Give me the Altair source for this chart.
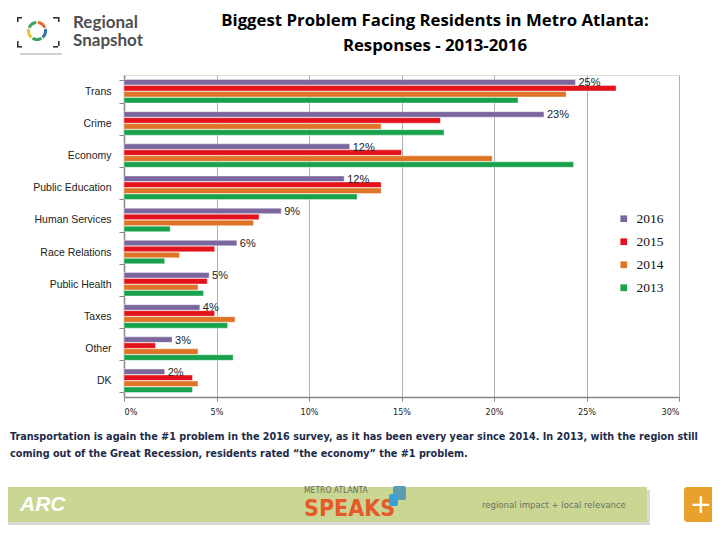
import altair as alt
import pandas as pd

# ---------------- data ----------------
categories = ["Trans", "Crime", "Economy", "Public Education", "Human Services",
              "Race Relations", "Public Health", "Taxes", "Other", "DK"]
years = ["2016", "2015", "2014", "2013"]
v2016 = [24.4, 22.7, 12.2, 11.9, 8.5, 6.1, 4.6, 4.1, 2.6, 2.2]
v2015 = [26.6, 17.1, 15.0, 13.9, 7.3, 4.9, 4.5, 4.9, 1.7, 3.7]
v2014 = [23.9, 13.9, 19.9, 13.9, 7.0, 3.0, 4.0, 6.0, 4.0, 4.0]
v2013 = [21.3, 17.3, 24.3, 12.6, 2.5, 2.2, 4.3, 5.6, 5.9, 3.7]
labels2016 = ["25%", "23%", "12%", "12%", "9%", "6%", "5%", "4%", "3%", "2%"]
year_colors = ["#7b679d", "#e3121b", "#dd7426", "#19a24b"]
x_ticks = [0, 5, 10, 15, 20, 25, 30]

title_lines = ["Biggest Problem Facing Residents in Metro Atlanta:", "Responses - 2013-2016"]
caption_lines = [
    "Transportation is again the #1 problem in the 2016 survey, as it has been every year since 2014. In 2013, with the region still",
    "coming out of the Great Recession, residents rated \u201cthe economy\u201d the #1 problem.",
]
logo_lines = ["Regional", "Snapshot"]
logo_segments = [1, 1, 1, 1, 1]
logo_colors = ["#e8692c", "#2f6fb3", "#3aa55b", "#e8c23a", "#3aa55b"]
footer_left = ["ARC"]
footer_mid_small = ["METRO ATLANTA"]
footer_mid_big = ["SPEAKS"]
footer_right = ["regional impact + local relevance"]
plus_sign = ["+"]

rows = []
for yr, vals in zip(years, [v2016, v2015, v2014, v2013]):
    for c, v in zip(categories, vals):
        rows.append({"Category": c, "Year": yr, "Value": v})
df = pd.DataFrame(rows)
lab_df = pd.DataFrame({"Category": categories, "Year": ["2016"] * len(categories),
                       "Value": v2016, "Label": labels2016})

W, H = 555, 322
PX, PY = 124, 75  # page position of plot origin

NARROW = "Liberation Sans Narrow, DejaVu Sans Condensed, sans-serif"


def px(x):
    return x - PX


def py(y):
    return y - PY


y_enc = alt.Y("Category:N", sort=categories, title=None,
              scale=alt.Scale(paddingInner=0.27, paddingOuter=0.14),
              axis=alt.Axis(labelFont="Liberation Sans", labelFontSize=10.5, labelColor="#222",
                            labelPadding=8, tickBand="extent", tickSize=5, tickColor="#888",
                            domainColor="#888", domainWidth=1.5))
yoff = alt.YOffset("Year:N", sort=years, scale=alt.Scale(paddingInner=0.08))
x_enc = alt.X("Value:Q", title=None,
              scale=alt.Scale(domain=[0, 30], nice=False),
              axis=alt.Axis(values=x_ticks, labelExpr="datum.value + '%'",
                            labelFont=NARROW, labelFontSize=9, labelColor="#222", labelPadding=6,
                            grid=True, gridColor="#b0b0b0", tickColor="#888", tickSize=4,
                            domainColor="#888", domainWidth=1.5))

bars = alt.Chart(df).mark_bar(stroke="white", strokeWidth=0.4).encode(
    y=y_enc, yOffset=yoff, x=x_enc,
    color=alt.Color("Year:N", sort=years,
                    scale=alt.Scale(domain=years, range=year_colors),
                    legend=alt.Legend(title=None, orient="none", legendX=px(617), legendY=py(212),
                                      symbolType="square", symbolSize=45, symbolStrokeWidth=0,
                                      labelFont="Liberation Serif", labelFontSize=13.5,
                                      labelColor="#111", rowPadding=8, labelOffset=6)),
)

bar_labels = alt.Chart(lab_df).mark_text(align="left", baseline="middle", dx=3, dy=1,
                                         font="Liberation Sans", fontSize=11, color="#222").encode(
    y=alt.Y("Category:N", sort=categories), yOffset=yoff, x="Value:Q", text="Label:N")


def txt(lines, x, y, step=0, **kw):
    return alt.layer(*[
        alt.Chart(pd.DataFrame({"t": [ln]})).mark_text(**kw).encode(
            text="t:N", x=alt.value(x), y=alt.value(y + k * step))
        for k, ln in enumerate(lines)
    ])


def rect(x1, x2, y1, y2, color, **kw):
    return alt.Chart(pd.DataFrame({"a": [0]})).mark_rect(color=color, **kw).encode(
        x=alt.value(x1), x2=alt.value(x2), y=alt.value(y1), y2=alt.value(y2))


title = txt(title_lines, px(435), py(21), step=25, align="center", baseline="middle",
            font="Open Sans", fontSize=16.8, fontWeight="bold", color="#000")

caption = txt(caption_lines, px(10), py(437), step=17, align="left", baseline="middle",
              font=NARROW, fontSize=10.75, fontWeight="bold", color="#1c2a48")

logo_text = alt.Chart(pd.DataFrame({"t": ["\n".join(logo_lines)]})).mark_text(
    align="left", baseline="top", lineBreak="\n", lineHeight=18,
    font="Lato", fontSize=17, fontWeight="bold", color="#4f4f52").encode(
    text="t:N", x=alt.value(px(73)), y=alt.value(py(15)))

ring = alt.Chart(pd.DataFrame({"s": logo_segments, "k": list(range(len(logo_segments)))})).mark_arc(
    radius=10, radius2=7, padAngle=0.12).encode(
    theta=alt.Theta("s:Q", stack=True),
    color=alt.Color("k:N", scale=alt.Scale(range=logo_colors), legend=None),
    x=alt.value(px(37)), y=alt.value(py(31)))

# corner brackets of the logo (decoration)
corners = [(17, 17, 1, 1), (58, 17, -1, 1), (17, 46, 1, -1), (58, 46, -1, -1)]
brackets = []
for cx, cy, sx, sy in corners:
    brackets.append(rect(px(min(cx, cx + sx * 5)), px(max(cx, cx + sx * 5)),
                         py(cy), py(cy + 1.6), "#333"))
    brackets.append(rect(px(cx), px(cx + 1.6), py(min(cy, cy + sy * 5)), py(max(cy, cy + sy * 5)), "#333"))

shadow = rect(px(20), px(62), py(53), py(55), "#cfcfcf", cornerRadius=1)

footer_shadow = rect(px(3), px(650), py(490), py(525), "#d9d9d9")
footer = rect(px(0), px(647), py(487), py(522), "#c9d792")
plus_box = rect(px(684), px(725), py(487), py(522), "#e9a02c", cornerRadius=3)

arc_txt = txt(footer_left, px(20), py(505), align="left", baseline="middle",
              font="Liberation Sans", fontSize=21, fontWeight="bold", fontStyle="italic",
              color="#ffffff")
metro_txt = txt(footer_mid_small, px(304), py(490), align="left", baseline="middle",
                font=NARROW, fontSize=8.5, color="#6a6a5a")
speaks_txt = txt(footer_mid_big, px(304), py(509), align="left", baseline="middle",
                 font=NARROW, fontSize=23, fontWeight="bold", color="#e5592a")
bubble = rect(px(393), px(406), py(486), py(500), "#5c9cb0", cornerRadius=2)
bubble2 = rect(px(389), px(398), py(494), py(506), "#3aa0d8", cornerRadius=2)
right_txt = txt(footer_right, px(482), py(505), align="left", baseline="middle",
                font=NARROW, fontSize=9.5, color="#6f6f66")
plus_txt = txt(plus_sign, px(701), py(505), align="center", baseline="middle",
               font="DejaVu Sans", fontSize=26, color="#ffffff")

chart = alt.layer(
    bars, bar_labels, title, caption, logo_text, ring, shadow, *brackets,
    footer_shadow, footer, plus_box, arc_txt, metro_txt, speaks_txt, bubble, bubble2,
    right_txt, plus_txt,
).resolve_scale(color="independent").properties(
    width=W, height=H,
    autosize=alt.AutoSizeParams(type="none"),
    padding={"left": PX - 8, "top": PY - 8, "right": 704 - (PX - 8) - W,
             "bottom": 524 - (PY - 8) - H},
).configure_view(stroke=None).configure(background="white")

chart.save("out.html", embed_options={"renderer": "svg", "actions": False})
